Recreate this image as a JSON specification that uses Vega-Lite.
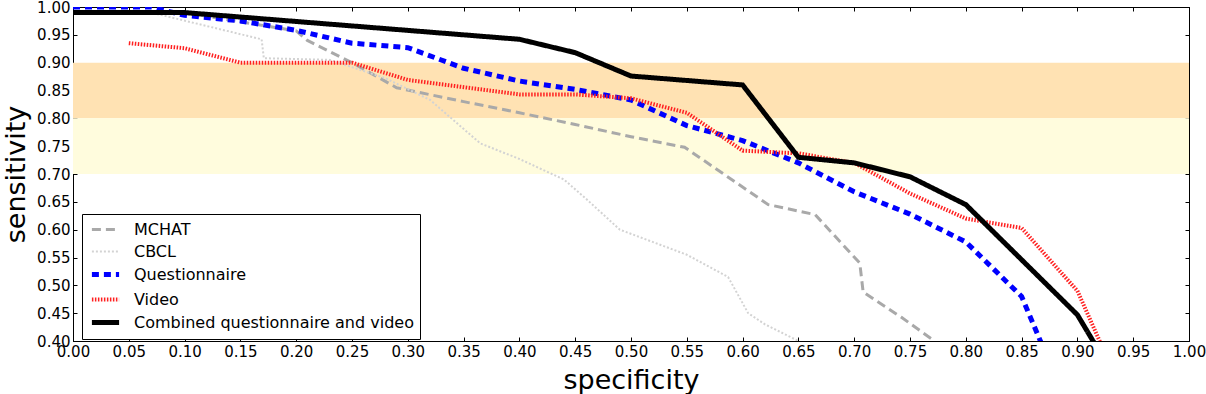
{
  "$schema": "https://vega.github.io/schema/vega-lite/v6.json",
  "autosize": {"type": "none"},
  "padding": {"left": 73, "top": 7, "right": 17, "bottom": 53},
  "width": 1116,
  "height": 334,
  "config": {
    "font": "DejaVu Sans",
    "view": {"stroke": "black", "strokeWidth": 1},
    "axis": {"grid": false, "domainColor": "black", "tickColor": "black", "labelColor": "black", "titleColor": "black", "labelFont": "DejaVu Sans", "titleFont": "DejaVu Sans", "labelFontSize": 15, "titleFontSize": 27, "titleFontWeight": "normal", "tickSize": -4, "labelPadding": 7}
  },
  "datasets": {
    "roc": [
      {"series": "MCHAT", "x": 0.0, "y": 0.99},
      {"series": "MCHAT", "x": 0.1, "y": 0.99},
      {"series": "MCHAT", "x": 0.2, "y": 0.957},
      {"series": "MCHAT", "x": 0.21, "y": 0.94},
      {"series": "MCHAT", "x": 0.25, "y": 0.9},
      {"series": "MCHAT", "x": 0.275, "y": 0.872},
      {"series": "MCHAT", "x": 0.29, "y": 0.855},
      {"series": "MCHAT", "x": 0.35, "y": 0.83},
      {"series": "MCHAT", "x": 0.4, "y": 0.81},
      {"series": "MCHAT", "x": 0.45, "y": 0.789},
      {"series": "MCHAT", "x": 0.5, "y": 0.767},
      {"series": "MCHAT", "x": 0.548, "y": 0.748},
      {"series": "MCHAT", "x": 0.623, "y": 0.645},
      {"series": "MCHAT", "x": 0.665, "y": 0.627},
      {"series": "MCHAT", "x": 0.705, "y": 0.54},
      {"series": "MCHAT", "x": 0.708, "y": 0.488},
      {"series": "MCHAT", "x": 0.742, "y": 0.443},
      {"series": "MCHAT", "x": 0.772, "y": 0.4},
      {"series": "CBCL", "x": 0.0, "y": 0.99},
      {"series": "CBCL", "x": 0.07, "y": 0.99},
      {"series": "CBCL", "x": 0.169, "y": 0.942},
      {"series": "CBCL", "x": 0.171, "y": 0.908},
      {"series": "CBCL", "x": 0.23, "y": 0.905},
      {"series": "CBCL", "x": 0.28, "y": 0.872},
      {"series": "CBCL", "x": 0.32, "y": 0.833},
      {"series": "CBCL", "x": 0.365, "y": 0.755},
      {"series": "CBCL", "x": 0.4, "y": 0.727},
      {"series": "CBCL", "x": 0.44, "y": 0.69},
      {"series": "CBCL", "x": 0.46, "y": 0.655},
      {"series": "CBCL", "x": 0.49, "y": 0.6},
      {"series": "CBCL", "x": 0.55, "y": 0.555},
      {"series": "CBCL", "x": 0.587, "y": 0.515},
      {"series": "CBCL", "x": 0.605, "y": 0.45},
      {"series": "CBCL", "x": 0.62, "y": 0.43},
      {"series": "CBCL", "x": 0.65, "y": 0.4},
      {"series": "Questionnaire", "x": 0.0, "y": 1.0},
      {"series": "Questionnaire", "x": 0.07, "y": 1.0},
      {"series": "Questionnaire", "x": 0.1, "y": 0.985},
      {"series": "Questionnaire", "x": 0.15, "y": 0.975},
      {"series": "Questionnaire", "x": 0.2, "y": 0.958},
      {"series": "Questionnaire", "x": 0.25, "y": 0.935},
      {"series": "Questionnaire", "x": 0.3, "y": 0.927},
      {"series": "Questionnaire", "x": 0.35, "y": 0.89},
      {"series": "Questionnaire", "x": 0.4, "y": 0.867},
      {"series": "Questionnaire", "x": 0.45, "y": 0.852},
      {"series": "Questionnaire", "x": 0.5, "y": 0.833},
      {"series": "Questionnaire", "x": 0.55, "y": 0.787},
      {"series": "Questionnaire", "x": 0.6, "y": 0.76},
      {"series": "Questionnaire", "x": 0.65, "y": 0.72},
      {"series": "Questionnaire", "x": 0.7, "y": 0.668},
      {"series": "Questionnaire", "x": 0.75, "y": 0.628},
      {"series": "Questionnaire", "x": 0.8, "y": 0.578},
      {"series": "Questionnaire", "x": 0.85, "y": 0.48},
      {"series": "Questionnaire", "x": 0.87, "y": 0.385},
      {"series": "Video", "x": 0.05, "y": 0.935},
      {"series": "Video", "x": 0.1, "y": 0.926},
      {"series": "Video", "x": 0.15, "y": 0.9},
      {"series": "Video", "x": 0.25, "y": 0.9},
      {"series": "Video", "x": 0.3, "y": 0.869},
      {"series": "Video", "x": 0.4, "y": 0.843},
      {"series": "Video", "x": 0.45, "y": 0.843},
      {"series": "Video", "x": 0.5, "y": 0.836},
      {"series": "Video", "x": 0.55, "y": 0.81},
      {"series": "Video", "x": 0.6, "y": 0.742},
      {"series": "Video", "x": 0.65, "y": 0.737},
      {"series": "Video", "x": 0.7, "y": 0.72},
      {"series": "Video", "x": 0.75, "y": 0.665},
      {"series": "Video", "x": 0.8, "y": 0.62},
      {"series": "Video", "x": 0.85, "y": 0.603},
      {"series": "Video", "x": 0.9, "y": 0.49},
      {"series": "Video", "x": 0.925, "y": 0.377},
      {"series": "Combined questionnaire and video", "x": 0.0, "y": 0.99},
      {"series": "Combined questionnaire and video", "x": 0.1, "y": 0.99},
      {"series": "Combined questionnaire and video", "x": 0.4, "y": 0.942},
      {"series": "Combined questionnaire and video", "x": 0.45, "y": 0.918},
      {"series": "Combined questionnaire and video", "x": 0.5, "y": 0.876},
      {"series": "Combined questionnaire and video", "x": 0.6, "y": 0.86},
      {"series": "Combined questionnaire and video", "x": 0.65, "y": 0.73},
      {"series": "Combined questionnaire and video", "x": 0.7, "y": 0.72},
      {"series": "Combined questionnaire and video", "x": 0.75, "y": 0.695},
      {"series": "Combined questionnaire and video", "x": 0.8, "y": 0.645},
      {"series": "Combined questionnaire and video", "x": 0.9, "y": 0.447},
      {"series": "Combined questionnaire and video", "x": 0.92, "y": 0.38}
    ]
  },
  "resolve": {"axis": {"x": "independent", "y": "independent"}},
  "layer": [
    {
      "data": {"values": [{}]},
      "mark": {"type": "rect", "color": "#FFE2B3"},
      "encoding": {
        "x": {"datum": 0, "type": "quantitative", "scale": {"domain": [0, 1], "nice": false, "zero": false},
          "axis": {"orient": "bottom", "title": "specificity", "values": [0,0.05,0.1,0.15,0.2,0.25,0.3,0.35,0.4,0.45,0.5,0.55,0.6,0.65,0.7,0.75,0.8,0.85,0.9,0.95,1], "format": ".2f", "labelFlush": false, "labelOverlap": false, "titlePadding": 8}},
        "x2": {"datum": 1},
        "y": {"datum": 0.8, "type": "quantitative", "scale": {"domain": [0.4, 1], "nice": false, "zero": false},
          "axis": {"orient": "left", "title": "sensitivity", "values": [0.4,0.45,0.5,0.55,0.6,0.65,0.7,0.75,0.8,0.85,0.9,0.95,1], "format": ".2f", "labelFlush": false, "labelOverlap": false, "titlePadding": 6}},
        "y2": {"datum": 0.9}
      }
    },
    {
      "data": {"values": [{}]},
      "mark": {"type": "rect", "color": "#FFFCDD"},
      "encoding": {
        "x": {"datum": 0, "type": "quantitative", "axis": null},
        "x2": {"datum": 1},
        "y": {"datum": 0.7, "type": "quantitative", "axis": null},
        "y2": {"datum": 0.8}
      }
    },
    {
      "data": {"name": "roc"},
      "mark": {"type": "line", "clip": true, "strokeCap": "butt", "strokeJoin": "miter"},
      "encoding": {
        "x": {"field": "x", "type": "quantitative",
          "axis": {"orient": "top", "title": null, "labels": false, "values": [0,0.05,0.1,0.15,0.2,0.25,0.3,0.35,0.4,0.45,0.5,0.55,0.6,0.65,0.7,0.75,0.8,0.85,0.9,0.95,1]}},
        "y": {"field": "y", "type": "quantitative",
          "axis": {"orient": "right", "title": null, "labels": false, "values": [0.4,0.45,0.5,0.55,0.6,0.65,0.7,0.75,0.8,0.85,0.9,0.95,1]}},
        "color": {"field": "series", "type": "nominal",
          "scale": {"domain": ["MCHAT", "CBCL", "Questionnaire", "Video", "Combined questionnaire and video"], "range": ["#a9a9a9", "#d3d3d3", "#0000ff", "#ff2020", "#000000"]},
          "legend": {"orient": "none", "legendX": 9, "legendY": 207, "title": null, "strokeColor": "black", "fillColor": "white", "padding": 6, "symbolType": "M-1.7,0H1.7", "symbolSize": 256, "symbolOffset": 7, "labelFontSize": 16, "labelFont": "DejaVu Sans", "labelColor": "black", "labelOffset": 18, "labelLimit": 500, "rowPadding": 4.5, "cornerRadius": 0}},
        "strokeDash": {"field": "series", "type": "nominal",
          "scale": {"domain": ["MCHAT", "CBCL", "Questionnaire", "Video", "Combined questionnaire and video"], "range": [[9, 5], [2, 2], [7, 5], [1.5, 1.5], [1, 0]]}},
        "strokeWidth": {"field": "series", "type": "nominal",
          "scale": {"type": "ordinal", "domain": ["MCHAT", "CBCL", "Questionnaire", "Video", "Combined questionnaire and video"], "range": [3, 2, 5, 4, 5]}}
      }
    }
  ]
}
